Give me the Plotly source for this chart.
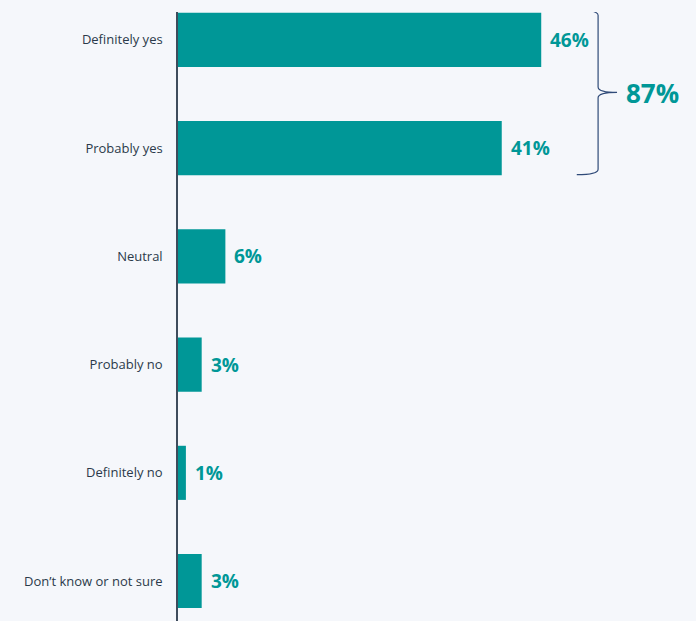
import plotly.graph_objects as go

# Survey responses
categories = ["Definitely yes", "Probably yes", "Neutral", "Probably no",
              "Definitely no", "Don’t know or not sure"]
values = [46, 41, 6, 3, 1, 3]
positions = list(range(len(categories)))

BG = "#f5f7fb"
TEAL = "#009797"
INK = "#2b3a4a"
NAVY = "#2f4a78"
FONT = "Open Sans"

fig = go.Figure(go.Bar(
    x=values, y=positions, orientation="h",
    marker=dict(color=TEAL, line=dict(width=0)),
    width=0.5, hoverinfo="skip",
))

# Value labels to the right of each bar
for v, p in zip(values, positions):
    fig.add_annotation(x=v, y=p, text=f"{v}%", showarrow=False,
                       xanchor="left", yanchor="middle", xshift=7,
                       font=dict(family=FONT, size=19, color=TEAL, weight="bold"))

# Curly brace grouping the two "yes" answers
top_yes = values[:2]
total_yes = sum(top_yes)
yt, yb = -0.277, 1.245
ym = (yt + yb) / 2
x0, xv, xt = 50.5, 53.2, 55.6
c = 0.05
path = (f"M {x0},{yt} Q {xv},{yt} {xv},{yt + c} "
        f"L {xv},{ym - c} Q {xv},{ym} {xt},{ym} "
        f"Q {xv},{ym} {xv},{ym + c} "
        f"L {xv},{yb - c} Q {xv},{yb} {x0},{yb}")
fig.add_shape(type="path", path=path, xref="x", yref="y",
              line=dict(color=NAVY, width=1.2))
fig.add_annotation(x=xt, y=ym, text=f"{total_yes}%", showarrow=False,
                   xanchor="left", yanchor="middle", xshift=7, yshift=-1,
                   font=dict(family=FONT, size=26, color=TEAL, weight="bold"))

fig.update_layout(
    width=696, height=621,
    paper_bgcolor=BG, plot_bgcolor=BG,
    margin=dict(l=178, r=0, t=12, b=0),
    showlegend=False,
    xaxis=dict(range=[0, 65.6], visible=False, fixedrange=True),
    yaxis=dict(
        range=[5.369, -0.258],
        tickvals=positions, ticktext=categories,
        tickfont=dict(family=FONT, size=13, color=INK),
        showgrid=False, zeroline=False,
        showline=True, linecolor="#3e4c5c", linewidth=1.5,
        ticks="", ticklabelstandoff=11,
    ),
)

fig.write_html("out.html")
